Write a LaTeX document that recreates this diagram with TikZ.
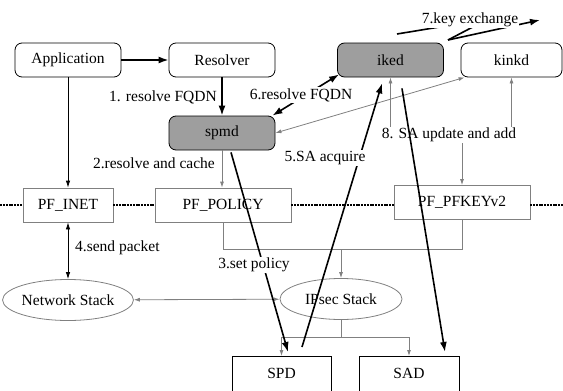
\documentclass[tikz,border=0pt]{standalone}
\usepackage{fontspec}
\setmainfont{Liberation Serif}
\usetikzlibrary{arrows.meta,shapes.geometric,calc}
\begin{document}
\begin{tikzpicture}[x=1pt,y=-1pt,
  font=\fontsize{15.5}{18}\selectfont,
  rbox/.style={draw, rounded corners=7pt, minimum width=106pt, minimum height=34pt, line width=0.8pt, inner sep=0pt},
  dbox/.style={rbox, fill=black!38},
  pfbox/.style={draw=black!50, line width=0.8pt, minimum height=34pt, inner sep=0pt},
  stack/.style={ellipse, draw=black!50, line width=0.8pt, minimum width=122pt, minimum height=41pt, inner sep=0pt},
  dbbox/.style={draw, line width=0.9pt, minimum width=99pt, minimum height=60pt, anchor=north, inner sep=0pt},
  big/.style={line width=1.6pt, -{Latex[length=10pt,width=7pt]}},
  bigboth/.style={line width=1.6pt, {Latex[length=10pt,width=7pt]}-{Latex[length=10pt,width=7pt]}},
  thinarr/.style={line width=0.8pt, -{Latex[length=7pt,width=4.5pt]}},
  thinboth/.style={line width=0.8pt, {Latex[length=7pt,width=4.5pt]}-{Latex[length=7pt,width=4.5pt]}},
  grayline/.style={draw=black!50, line width=0.8pt},
  grayarr/.style={grayline, -{Latex[length=6pt,width=4pt]}},
  grayboth/.style={grayline, {Latex[length=6pt,width=4pt]}-{Latex[length=6pt,width=4pt]}},
  lbl/.style={fill=white, inner sep=1pt},
  dashdotline/.style={line width=1.3pt, dash pattern=on 2pt off 1pt on 2pt off 1pt on 2pt off 1pt on 4pt off 1pt}
]
\useasboundingbox (0,0) rectangle (563,391);

% top row
\node[rbox] (app) at (68,60) {Application};
\node[rbox] (res) at (222,60) {Resolver};
\node[dbox] (iked) at (390.5,60) {iked};
\node[rbox, minimum width=101pt] (kinkd) at (511.5,60) {kinkd};
\node[dbox] (spmd) at (222,133) {spmd};

% PF layer
\node[pfbox, minimum width=90pt] (pfinet) at (68,205) {PF\_INET};
\node[pfbox, minimum width=136pt] (pfpolicy) at (223,205) {PF\_POLICY};
\node[pfbox, minimum width=136pt] (pfkey) at (462,202.5) {PF\_PFKEYv2};

% stacks
\node[stack] (netstack) at (68,300) {Network Stack};
\node[stack] (ipsec) at (341,299) {IPsec Stack};

% databases
\node[dbbox] (spd) at (281.5,356) {};
\node[anchor=center] (spdt) at (281.5,373) {SPD};
\node[dbbox, minimum width=100pt] (sad) at (409,356) {};
\node[anchor=center] (sadt) at (409,373) {SAD};

% dash-dot kernel boundary
\coordinate (L) at (0,205);
\coordinate (R) at (563,205);
\draw[dashdotline] (L) -- (pfinet.west);
\draw[dashdotline] (pfinet.east) -- (pfpolicy.west);
\draw[dashdotline] (pfpolicy.east) -- (pfpolicy.east -| pfkey.west);
\draw[dashdotline] (pfpolicy.east -| pfkey.east) -- (R);

% black arrows
\draw[big] (app) -- (res);
\draw[big] (res) -- (spmd);
\node[anchor=east, inner sep=0pt] (l1) at (217,97) {1. resolve FQDN};
\draw[thinarr] (app) -- (pfinet);
\draw[thinboth] (pfinet) -- (netstack);
\node[anchor=west, inner sep=0pt] (l4) at (75,248) {4.send packet};

% gray arrows
\draw[grayarr] (spmd) -- (spmd |- pfpolicy.north);
\node[anchor=east, inner sep=0pt] (l2) at (215,163) {2.resolve and cache};
\draw[grayboth] (spmd.east) -- ([xshift=4pt]kinkd.south west);

\coordinate (jp) at (341,249);
\draw[grayline] (pfpolicy.south) |- (jp);
\draw[grayline] (pfkey.south) |- (jp);
\draw[grayarr] (jp) -- (ipsec.north);
\draw[grayboth] (netstack) -- (ipsec);
\coordinate (js) at (341,337);
\draw[grayline] (ipsec.south) -- (js);
\draw[grayarr] (js) -| (spd.north);
\draw[grayarr] (js) -| (sad.north);

\node[lbl] (l8) at (449,135) {8. SA update and add};
\draw[grayarr] (l8.north -| iked) -- (iked.south);
\draw[grayarr] (l8.north -| kinkd) -- (kinkd.south);
\draw[grayarr] (l8.south -| pfkey) -- (pfkey.north);

% 6. resolve FQDN
\draw[bigboth] ([shift={(-3,0)}]spmd.north east) -- ([shift={(2,-3)}]iked.south west);
\node[lbl] (l6) at (301,95) {6.resolve FQDN};

% 3. set policy
\draw[big] ([shift={(9,2)}]spmd.south) -- ([shift={(6.5,-4)}]spd.north);
\node[lbl] (l3) at (254,265) {3.set policy};

% 5. SA acquire
\draw[big] ([shift={(20.5,-9)}]spd.north) -- ([shift={(-8.5,6)}]iked.south);
\node[lbl] (l5) at (325,158) {5.SA acquire};

% iked -> SAD
\draw[big] ([shift={(11.5,11)}]iked.south) -- ([shift={(36,-4)}]sad.north);

% 7. key exchange
\coordinate (k0) at (397,34);
\coordinate (k1) at (488,19);
\coordinate (k2) at (448,40);
\coordinate (k3) at (540,20);
\draw[line width=1.6pt] (k0) -- (k1) -- (k2);
\draw[big] (k2) -- (k3);
\node[lbl, inner sep=0.5pt] (l7) at (470,20) {7.key exchange};
\end{tikzpicture}
\end{document}
